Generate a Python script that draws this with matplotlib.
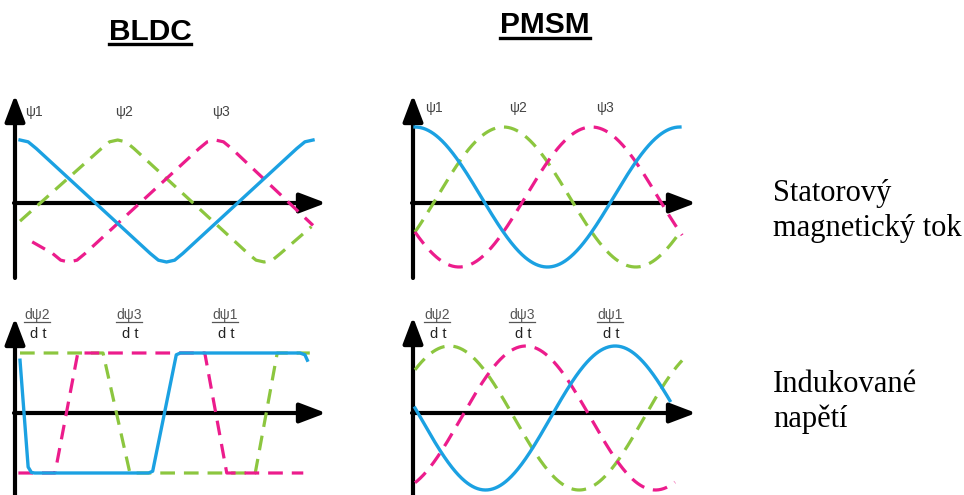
import numpy as np
import matplotlib
matplotlib.use('Agg')
import matplotlib.pyplot as plt
from matplotlib.lines import Line2D

W, H = 964, 495

# barvy
BLUE = '#1ba1e2'
GREEN = '#8cc63f'
PINK = '#ec1c8c'

# --- BLDC, magneticky tok (vrcholy krivek: el. stupne / pomerna hodnota) ---
bldc_psi1_deg = [0, 10, 20, 160, 170, 180, 190, 200, 340, 350, 360]
bldc_psi1_val = [1.0, 0.97, 0.86, -0.86, -0.97, -1.0, -0.97, -0.86, 0.86, 0.97, 1.0]
bldc_psi2_deg = [0, 100, 110, 120, 130, 140, 280, 290, 300, 310, 320, 358]
bldc_psi2_val = [-0.33, 0.86, 0.97, 1.0, 0.97, 0.86, -0.86, -0.97, -1.0, -0.97, -0.86, -0.42]
bldc_psi3_deg = [15, 40, 50, 60, 70, 80, 220, 230, 240, 250, 260, 360]
bldc_psi3_val = [-0.67, -0.86, -0.97, -1.0, -0.97, -0.86, 0.86, 0.97, 1.0, 0.97, 0.86, -0.4]

# --- BLDC, indukovane napeti (lichobezniky) ---
bldc_e1_deg = [0, 10, 14, 18, 158, 163, 192, 197, 344, 350, 353]
bldc_e1_val = [0.88, -0.9, -0.99, -1.0, -1.0, -0.97, 0.97, 1.0, 1.0, 0.97, 0.88]
bldc_e2_deg = [0, 102, 135, 289, 316, 356]
bldc_e2_val = [1, 1, -1, -1, 1, 1]
bldc_e3_deg = [-2, 43, 71, 227, 254, 348]
bldc_e3_val = [-1, -1, 1, 1, -1, -1]

# --- PMSM, sinusovky: faze, rozsah kresleni, zpozdeni napeti ---
pmsm_phase = [0, 120, 240]
pmsm_flux_span = [(0, 360), (0, 357), (0, 363)]
pmsm_emf_lag = [8, 18, 4]
pmsm_emf_span = [(0, 354), (0, 371), (0, 361)]

psi_labels = ['ψ1', 'ψ2', 'ψ3']
emf_labels = ['dψ2', 'dψ3', 'dψ1']

plt.rcParams['font.family'] = ['Liberation Sans', 'DejaVu Sans']

fig = plt.figure(figsize=(W / 100, H / 100), dpi=100)


def px(x, y):
    return x / W, 1 - y / H


def panel(theta0_px, deg_px, yc_px, amp_px):
    # osa pres celou plochu, mapovani stupne -> pixely
    ax = fig.add_axes([0, 0, 1, 1])
    ax.set_xlim(-theta0_px / deg_px, (W - theta0_px) / deg_px)
    ax.set_ylim((yc_px - H) / amp_px, yc_px / amp_px)
    ax.set_axis_off()
    ax.patch.set_alpha(0)
    return ax


def axis_arrow(ax, x1, y1, x2, y2):
    ax.annotate('', xy=(x2, H - y2), xytext=(x1, H - y1),
                xycoords='figure pixels', textcoords='figure pixels',
                arrowprops=dict(arrowstyle='-|>,head_length=1.0,head_width=0.38',
                                mutation_scale=16, lw=3, color='black',
                                shrinkA=0, shrinkB=0), zorder=1)


def axes_cross(ax, x0, ytop, ybot, yaxis, xtip):
    axis_arrow(ax, x0, ybot, x0, ytop)
    axis_arrow(ax, x0 - 1, yaxis, xtip, yaxis)


dash = dict(ls=(0, (4.6, 2.8)), lw=2.3, solid_capstyle='round', dash_capstyle='butt')

# levy horni - BLDC tok
ax1 = panel(20, 0.814, 201, 61)
axes_cross(ax1, 15, 95, 278, 203, 326)
ax1.plot(bldc_psi2_deg, bldc_psi2_val, color=GREEN, zorder=2, **dash)
ax1.plot(bldc_psi3_deg, bldc_psi3_val, color=PINK, zorder=2, **dash)
ax1.plot(bldc_psi1_deg, bldc_psi1_val, color=BLUE, lw=2.4, zorder=3)

# pravy horni - PMSM tok
ax2 = panel(415, 0.736, 197, 70)
axes_cross(ax2, 413, 95, 278, 203, 696)
colors = [BLUE, GREEN, PINK]
for i in [1, 2, 0]:
    a, b = pmsm_flux_span[i]
    th = np.linspace(a, b, 400)
    y = np.cos(np.radians(th - pmsm_phase[i]))
    if i == 0:
        ax2.plot(th, y, color=colors[i], lw=2.4, zorder=3)
    else:
        ax2.plot(th, y, color=colors[i], zorder=2, **dash)

# levy dolni - BLDC napeti
ax3 = panel(20, 0.814, 413, 60)
axes_cross(ax3, 15, 318, 495, 413, 326)
ax3.plot(bldc_e2_deg, bldc_e2_val, color=GREEN, zorder=2, **dash)
ax3.plot(bldc_e3_deg, bldc_e3_val, color=PINK, zorder=2, **dash)
ax3.plot(bldc_e1_deg, bldc_e1_val, color=BLUE, lw=2.4, zorder=3)

# pravy dolni - PMSM napeti
ax4 = panel(415, 0.72, 418, 72)
axes_cross(ax4, 413, 317, 495, 413, 696)
for i in [1, 2, 0]:
    a, b = pmsm_emf_span[i]
    th = np.linspace(a, b, 400)
    y = -np.sin(np.radians(th - pmsm_phase[i] - pmsm_emf_lag[i]))
    if i == 0:
        ax4.plot(th, y, color=colors[i], lw=2.4, zorder=3)
    else:
        ax4.plot(th, y, color=colors[i], zorder=2, **dash)

# popisky psi
for lab, xl, xr in zip(psi_labels, [34, 124, 221], [434, 518, 605]):
    fig.text(*px(xl, 116), lab, ha='center', va='baseline', fontsize=10, color='#444444')
    fig.text(*px(xr, 112), lab, ha='center', va='baseline', fontsize=10, color='#444444')

# popisky derivaci
num_texts = []
for lab, xl, xr in zip(emf_labels, [37, 129, 225], [437, 522, 610]):
    for xc in (xl, xr):
        t = fig.text(*px(xc, 319), lab, ha='center', va='baseline', fontsize=10, color='#555555')
        num_texts.append(t)
        fig.text(*px(xc + 1, 338), 'd t', ha='center', va='baseline', fontsize=10.5, color='#222222')

# nadpisy
t_bldc = fig.text(*px(150, 40), 'BLDC', ha='center', va='baseline', fontsize=21.5, fontweight='bold')
t_pmsm = fig.text(*px(545, 33), 'PMSM', ha='center', va='baseline', fontsize=21.5, fontweight='bold')

# popisky vpravo
serif = ['Liberation Serif', 'DejaVu Serif']
fig.text(*px(773, 201), 'Statorový', ha='left', va='baseline', fontsize=22, family=serif)
fig.text(*px(773, 236), 'magnetický tok', ha='left', va='baseline', fontsize=22, family=serif)
fig.text(*px(773, 392), 'Indukované', ha='left', va='baseline', fontsize=22, family=serif)
fig.text(*px(773, 427), 'napětí', ha='left', va='baseline', fontsize=22, family=serif)

# podtrzeni
fig.canvas.draw()
r = fig.canvas.get_renderer()


def underline(t, y_px, lw):
    bb = t.get_window_extent(r)
    yy = 1 - y_px / H
    fig.add_artist(Line2D([bb.x0 / W, bb.x1 / W], [yy, yy], transform=fig.transFigure,
                          lw=lw, color=t.get_color()))


underline(t_bldc, 44, 2.4)
underline(t_pmsm, 38, 2.4)
for t in num_texts:
    underline(t, 322, 0.9)

fig.savefig('out.png', dpi=100)
